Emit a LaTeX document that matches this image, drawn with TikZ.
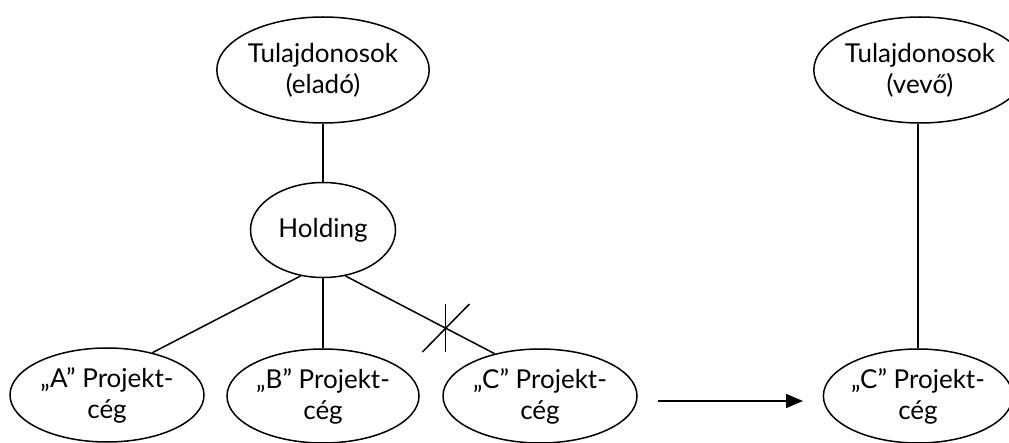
\documentclass[tikz,border=0pt]{standalone}
\usepackage{fontspec}
\setmainfont{Lato}
\usetikzlibrary{shapes.geometric,arrows.meta}

\begin{document}
\begin{tikzpicture}[x=1pt,y=-1pt,line width=1.5pt]
    \useasboundingbox (0,0) rectangle (1009,443);
    \begin{scope}[every node/.style={ellipse,draw,inner sep=0pt,align=center,font=\fontsize{26}{31}\selectfont}]

\node[minimum width=192pt,minimum height=106pt] (owners_seller) at (323,70)  {Tulajdonosok\\(eladó)};
\node[minimum width=145pt,minimum height=95pt]  (holding)       at (323,230) {Holding};
\node[minimum width=194pt,minimum height=94pt]  (proj_a)        at (107,395) {„A” Projekt-\\cég};
\node[minimum width=192pt,minimum height=94pt]  (proj_b)        at (323,396) {„B” Projekt-\\cég};
\node[minimum width=194pt,minimum height=94pt]  (proj_c)        at (540,396) {„C” Projekt-\\cég};

\node[minimum width=176pt,minimum height=106pt] (owners_buyer)  at (920,70)  {Tulajdonosok\\(vevő)};
\node[minimum width=181pt,minimum height=94pt]  (proj_c_new)    at (918,396) {„C” Projekt-\\cég};

    \end{scope}

\draw (owners_seller) -- (holding);
\draw (holding.244) -- (proj_a.43);
\draw (holding) -- (proj_b);
\draw (holding.296) -- coordinate[pos=0.67] (cut) (proj_c.137);

% cut off
\draw ([yshift=24pt]cut) -- ([yshift=-24pt]cut);
\draw ([shift={(-23,24)}]cut) -- ([shift={(24,-24)}]cut);

\coordinate (arrow_start) at (658,401);
\coordinate (arrow_end)   at (803,401);
\draw[-{Triangle[length=17pt,width=14pt]}] (arrow_start) -- (arrow_end);

\draw (owners_buyer.south -| proj_c_new.north) -- (proj_c_new.north);
    \end{tikzpicture}
\end{document}
